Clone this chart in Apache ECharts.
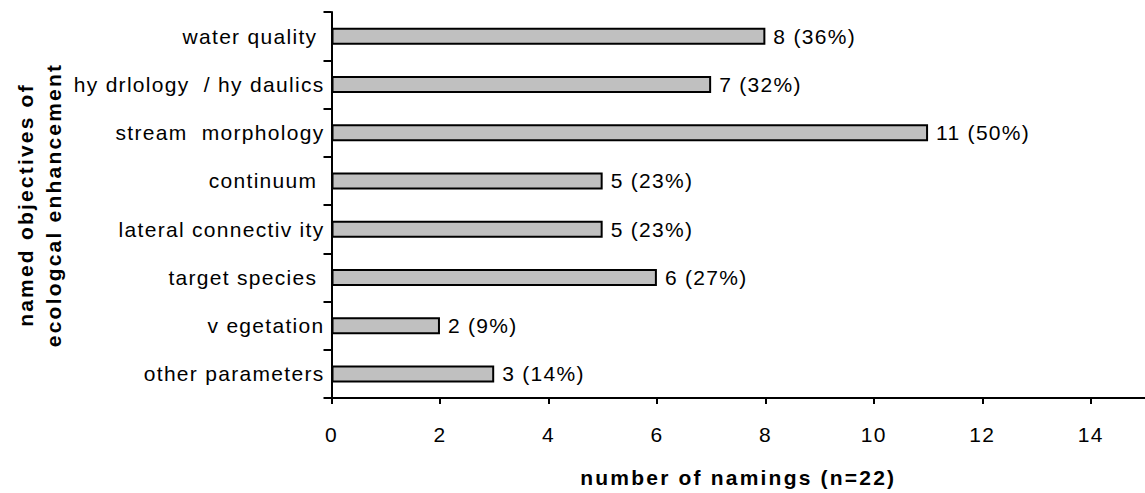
<!DOCTYPE html>
<html>
<head>
<meta charset="utf-8">
<title>Named objectives of ecological enhancement</title>
<script src="https://cdn.jsdelivr.net/npm/echarts@6/dist/echarts.min.js"></script>
<style>
  html, body { margin: 0; padding: 0; background: #fff; }
  #chart { width: 1145px; height: 493px; }
  /* wide, typewriter-like tracking of the labels */
  #chart text { letter-spacing: 1.3px; }
  #chart text[style*="bold"] { letter-spacing: 2.2px; }
</style>
</head>
<body>
<div id="chart"></div>
<script>
// Objectives named in the surveyed projects, top to bottom
const categories = [
  'water quality ',
  'hy drlology  / hy daulics',
  'stream  morphology',
  'continuum ',
  'lateral connectiv ity',
  'target species ',
  'v egetation',
  'other parameters'
];
// Number of namings per objective
const namings = [8, 7, 11, 5, 5, 6, 2, 3];
// Total number of projects
const totalProjects = 22;
// Tick values shown on the value axis
const xTicks = [0, 2, 4, 6, 8, 10, 12, 14];

const FONT = '"Liberation Sans", Arial, Helvetica, sans-serif';

const chart = echarts.init(document.getElementById('chart'), null, { renderer: 'svg' });

chart.setOption({
  animation: false,
  backgroundColor: '#ffffff',
  grid: { left: 331.5, right: -3, top: 12, bottom: 95, containLabel: false },
  xAxis: {
    type: 'value',
    min: 0,
    max: 15,
    name: 'number of namings (n=' + totalProjects + ')',
    nameLocation: 'middle',
    nameGap: 69,
    nameTextStyle: { fontFamily: FONT, fontSize: 21, fontWeight: 'bold', color: '#000' },
    splitLine: { show: false },
    axisLine: { show: true, lineStyle: { color: '#000', width: 2 } },
    axisTick: { show: true, length: 6, lineStyle: { color: '#000', width: 2 }, customValues: xTicks },
    axisLabel: { margin: 26, fontFamily: FONT, fontSize: 21, color: '#000', customValues: xTicks }
  },
  yAxis: {
    type: 'category',
    data: categories,
    inverse: true,
    name: 'named objectives of\necologcal enhancement',
    nameLocation: 'middle',
    nameGap: 264,
    nameTextStyle: { fontFamily: FONT, fontSize: 21, fontWeight: 'bold', color: '#000', lineHeight: 28, align: 'center' },
    axisLine: { show: true, lineStyle: { color: '#000', width: 2 } },
    axisTick: { show: true, length: 8, lineStyle: { color: '#000', width: 2 } },
    axisLabel: { margin: 7, fontFamily: FONT, fontSize: 21, color: '#000' },
    splitLine: { show: false }
  },
  series: [{
    type: 'bar',
    data: namings,
    barWidth: 17,
    itemStyle: { color: '#c0c0c0', borderColor: '#000', borderWidth: 2 },
    label: {
      show: true,
      position: 'right',
      distance: 8,
      fontFamily: FONT,
      fontSize: 21,
      color: '#000',
      formatter: p => p.value + ' (' + Math.round(p.value / totalProjects * 100) + '%)'
    }
  }]
});
</script>
</body>
</html>
